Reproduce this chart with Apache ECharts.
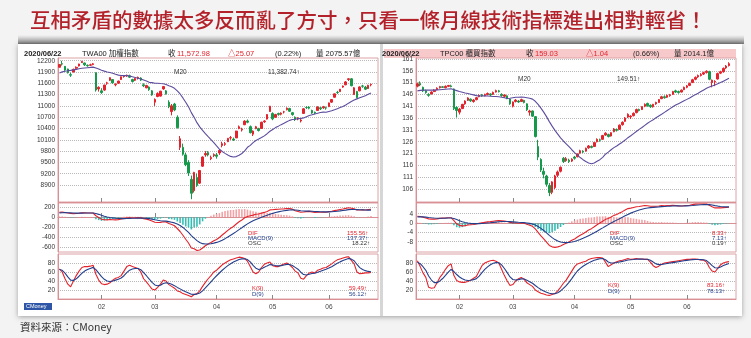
<!DOCTYPE html>
<html><head><meta charset="utf-8">
<script src="https://cdn.jsdelivr.net/npm/echarts@6.0.0/dist/echarts.min.js"></script>
<style>html,body{margin:0;padding:0;background:#f2f2f2;}#c{width:751px;height:338px;}</style>
</head><body><div id="c"></div>
<script>
const dates = ['01/02','01/03','01/06','01/07','01/08','01/09','01/10','01/13','01/14','01/15','01/16','01/17','01/20','01/30','01/31',
'02/03','02/04','02/05','02/06','02/07','02/10','02/11','02/12','02/13','02/14','02/17','02/18','02/19','02/20','02/21','02/24','02/25','02/26','02/27',
'03/02','03/03','03/04','03/05','03/06','03/09','03/10','03/11','03/12','03/13','03/16','03/17','03/18','03/19','03/20','03/23','03/24','03/25','03/26','03/27','03/30','03/31',
'04/01','04/06','04/07','04/08','04/09','04/10','04/13','04/14','04/15','04/16','04/17','04/20','04/21','04/22','04/23','04/24','04/27','04/28','04/29','04/30',
'05/04','05/05','05/06','05/07','05/08','05/11','05/12','05/13','05/14','05/15','05/18','05/19','05/20','05/21','05/22','05/25','05/26','05/27','05/28','05/29',
'06/01','06/02','06/03','06/04','06/05','06/08','06/09','06/10','06/11','06/12','06/15','06/16','06/17','06/18','06/19','06/22'];

// TAIEX (TWA00)
const twOpen = [12026,12120,12050,11980,11830,11900,12000,12060,12150,12140,12080,12080,12100,11880,11450,11400,11420,11600,11680,11700,11560,11600,11700,11780,11800,11800,11700,11680,11740,11740,11560,11480,11500,11400,11100,11250,11260,11450,11400,11100,10850,11050,10700,9900,9900,9700,9500,9050,8750,9100,8950,9400,9700,9760,9600,9680,9700,9750,9950,9980,10050,10150,10120,10150,10400,10360,10500,10600,10450,10250,10400,10400,10400,10580,10650,10850,10800,10700,10800,10780,10840,10900,10930,10820,10700,10650,10600,10800,10960,10970,10880,10830,10880,10950,10950,10950,10980,11100,11230,11360,11380,11500,11560,11700,11720,11300,11380,11400,11530,11500,11460,11560];
const twClose = [12100,12110,11953,11880,11817,11970,12025,12113,12179,12091,12066,12091,12118,11421,11495,11354,11555,11612,11749,11612,11573,11660,11774,11791,11815,11763,11648,11725,11758,11686,11534,11540,11433,11292,11170,11328,11392,11514,11321,10977,11003,10893,10422,10128,9717,9439,9218,8681,9234,8890,9285,9644,9737,9698,9629,9708,9663,9818,9996,9997,10137,10157,10098,10332,10447,10376,10597,10566,10288,10332,10447,10347,10567,10600,10772,10992,10656,10772,10775,10808,10842,10939,10858,10770,10641,10680,10623,10924,10958,10940,10811,10810,10972,10925,10975,10942,11079,11169,11320,11354,11443,11528,11638,11720,11536,11480,11220,11504,11524,11444,11548,11573];
const twLow = [12026,12070,11930,11860,11770,11890,11980,12050,12140,12060,12040,12060,12080,11380,11380,11320,11400,11560,11660,11590,11520,11590,11690,11750,11770,11740,11620,11660,11700,11660,11500,11470,11400,11270,11000,11230,11250,11430,11300,10940,10750,10860,10400,9830,9680,9400,9140,8523,8700,8850,8930,9380,9650,9660,9560,9640,9600,9700,9900,9940,10040,10100,10070,10150,10380,10320,10490,10540,10270,10200,10380,10320,10390,10550,10640,10840,10620,10680,10740,10750,10800,10880,10840,10740,10600,10620,10560,10790,10920,10910,10790,10780,10870,10890,10920,10900,10970,11080,11220,11320,11370,11480,11550,11660,11520,11290,11200,11390,11480,11420,11450,11520];
const twHigh = [12110,12197,12060,11990,11880,11990,12050,12120,12197,12150,12100,12120,12140,11890,11520,11470,11560,11640,11760,11710,11600,11670,11780,11820,11830,11830,11720,11740,11780,11760,11600,11560,11520,11420,11200,11360,11400,11530,11420,11150,11050,11080,10750,10200,10000,9760,9560,9150,9250,9200,9300,9660,9800,9800,9680,9740,9750,9850,10050,10040,10150,10200,10160,10340,10480,10420,10620,10640,10480,10350,10470,10420,10580,10620,10780,11000,10830,10790,10820,10830,10870,10960,10950,10840,10720,10700,10650,10940,10990,10990,10900,10850,10990,10970,11000,10980,11090,11180,11330,11400,11450,11540,11660,11736,11740,11500,11400,11520,11560,11530,11560,11590];
const twMA20 = [11876,11904,11922,11935,11943,11957,11970,11986,12000,12008,12015,12022,12030,12005,11980,11949,11924,11900,11885,11866,11839,11817,11808,11803,11803,11793,11774,11755,11734,11713,11687,11659,11625,11619,11602,11601,11593,11588,11567,11535,11506,11468,11400,11317,11212,11096,10975,10822,10696,10556,10444,10349,10264,10185,10108,10027,9940,9855,9789,9740,9697,9660,9644,9654,9690,9737,9806,9901,9953,10025,10083,10119,10160,10205,10262,10327,10376,10424,10463,10503,10539,10578,10616,10638,10647,10663,10664,10682,10715,10746,10764,10787,10807,10824,10834,10831,10852,10872,10899,10927,10957,10986,11025,11073,11117,11157,11187,11216,11245,11270,11307,11345];
const twDIF = [95,98,90,80,70,68,70,75,82,82,80,80,80,25,-10,-45,-55,-58,-50,-55,-58,-52,-40,-30,-20,-15,-20,-18,-15,-18,-32,-42,-58,-80,-105,-110,-108,-95,-100,-130,-150,-175,-230,-290,-365,-445,-520,-620,-635,-670,-660,-620,-575,-540,-510,-475,-450,-410,-360,-315,-268,-225,-190,-140,-95,-60,-15,10,25,38,55,60,78,92,112,142,145,152,156,160,163,170,168,158,125,110,95,100,108,112,102,92,95,95,97,96,108,115,128,138,150,160,172,185,175,165,142,140,142,140,148,156];
const twMACD = [83,86,87,86,83,80,78,77,78,79,79,79,79,69,53,33,16,1,-9,-18,-26,-31,-33,-33,-30,-27,-26,-24,-22,-21,-24,-27,-33,-43,-55,-66,-75,-79,-83,-92,-104,-118,-141,-170,-209,-256,-309,-371,-424,-473,-511,-533,-541,-541,-535,-523,-508,-489,-463,-433,-400,-365,-330,-292,-253,-214,-174,-138,-105,-76,-50,-28,-7,13,33,55,73,89,102,114,124,133,140,144,140,134,126,121,118,117,114,110,107,104,103,102,103,105,110,115,122,130,138,148,150,151,148,145,143,140,138,137];
const twOSC = [12,12,3,-6,-13,-12,-8,-2,4,3,1,1,1,-44,-63,-78,-71,-59,-41,-37,-32,-21,-7,3,10,12,6,6,7,3,-8,-15,-25,-37,-50,-44,-33,-16,-17,-38,-46,-57,-89,-120,-156,-189,-211,-249,-211,-197,-149,-87,-34,1,25,48,58,79,103,118,132,140,140,152,158,154,159,148,130,114,105,88,85,79,79,87,72,63,54,46,39,37,28,14,-15,-24,-31,-21,-10,-5,-12,-18,-12,-9,-6,-6,5,10,18,23,28,30,34,37,25,14,-6,-5,-1,0,10,19];
const twK = [67,60,45,33,27,40,52,62,70,72,72,73,75,55,42,34,32,33,36,42,46,48,52,62,72,75,72,70,68,60,45,38,30,22,20,26,33,42,40,32,28,24,18,16,12,10,8,5,10,12,18,28,37,45,52,60,64,70,76,80,84,87,89,91,93,92,90,84,72,60,56,60,70,77,80,82,74,72,72,75,78,80,76,70,62,58,46,44,52,58,60,58,64,66,69,70,74,78,83,87,89,91,93,94,86,78,60,56,57,58,58,59];
const twD = [65.7,63.8,57.5,49.3,41.9,41.3,44.9,50.6,57.1,62.0,65.4,67.9,70.3,65.2,57.4,49.6,43.7,40.1,38.8,39.9,41.9,43.9,46.6,51.7,58.5,64.0,66.7,67.8,67.9,65.2,58.5,51.7,44.4,37.0,31.3,29.5,30.7,34.5,36.3,34.9,32.6,29.7,25.8,22.5,19.0,16.0,13.3,10.5,10.3,10.9,13.3,18.2,24.5,31.3,38.2,45.5,51.7,57.8,63.9,69.3,74.2,78.5,82.0,85.0,87.7,89.1,89.4,87.6,82.4,74.9,68.6,65.7,67.1,70.4,73.6,76.4,75.6,74.4,73.6,74.1,75.4,76.9,76.6,74.4,70.3,66.2,59.5,54.3,53.5,55.0,56.7,57.1,59.4,61.6,64.1,66.1,68.7,71.8,75.5,79.3,82.5,85.3,87.9,89.9,88.6,85.1,76.7,69.8,65.5,63.0,61.3,60.5];

// OTC index (TPC00)
const tpOpen = [149.5,150.6,149.0,147.5,146.0,146.2,147.2,148.0,148.8,149.2,148.8,149.4,149.6,148.3,140.5,138.5,140.0,142.0,143.5,144.0,143.0,143.8,145.0,145.8,145.4,146.0,146.2,146.0,147.0,147.5,146.0,145.2,145.4,144.0,141.0,143.0,143.2,143.0,143.5,142.0,138.5,139.0,136.6,124.0,118.5,113.5,111.5,107.5,104.6,106.6,111.8,113.5,119.0,118.0,118.2,117.8,119.5,119.6,121.2,122.0,122.0,123.4,124.0,124.0,126.0,126.8,127.0,128.8,129.0,128.4,130.2,131.2,131.2,133.2,134.6,136.4,136.5,137.0,138.3,139.6,139.6,141.0,142.2,141.4,140.8,142.0,142.6,144.2,145.0,144.8,145.5,146.0,147.5,147.2,147.0,148.0,149.0,149.8,151.0,152.4,153.4,154.0,154.6,155.3,155.6,151.0,151.2,152.5,155.0,155.6,157.2,158.2];
const tpClose = [150.5,150.0,147.5,146.8,145.6,147.0,147.8,148.6,149.3,149.0,149.4,149.8,149.3,140.0,139.2,139.8,141.8,143.2,144.5,143.3,143.6,144.6,145.6,145.4,146.0,146.4,145.8,146.8,147.6,147.2,145.5,145.8,144.2,142.0,142.8,143.6,142.8,143.8,142.6,139.5,139.0,136.8,128.2,119.5,114.0,112.2,108.0,104.5,109.0,111.5,113.2,115.2,117.6,118.8,117.6,118.6,119.0,120.8,122.2,121.6,123.2,124.2,123.6,125.6,127.0,126.6,128.6,129.6,128.2,129.8,131.4,130.8,133.0,134.2,136.0,137.6,136.8,138.0,139.6,139.2,140.8,141.8,141.2,140.8,141.8,142.6,143.8,145.0,144.6,145.6,145.8,147.2,147.0,146.8,147.8,149.0,149.6,150.6,152.2,153.2,154.0,154.4,155.2,155.8,152.4,152.0,151.5,154.8,155.6,157.0,158.0,159.0];
const tpLow = [149.0,149.5,147.0,146.3,145.0,146.0,147.0,147.8,148.5,148.7,148.6,149.1,149.0,139.4,136.2,137.5,139.8,141.6,143.2,142.8,142.5,143.5,144.8,145.0,145.2,145.6,145.3,145.8,146.8,146.8,145.0,144.6,144.0,141.6,140.5,142.6,142.4,142.8,142.2,139.0,137.0,136.5,127.8,118.2,113.2,110.5,107.0,103.0,103.8,106.0,111.0,113.0,117.0,117.5,117.0,117.4,118.4,119.4,120.9,121.2,121.8,123.0,123.2,123.8,125.7,126.0,126.9,128.5,127.8,128.2,130.0,130.3,131.0,132.8,134.4,136.0,135.6,136.7,138.0,138.8,139.4,140.6,140.8,140.3,140.4,141.6,142.4,144.0,144.2,144.5,145.0,145.8,146.6,146.3,146.8,147.8,148.6,149.5,150.8,152.0,153.0,153.6,154.2,154.8,152.0,149.0,149.5,152.3,154.6,155.2,156.8,157.8];
const tpHigh = [151.0,151.5,149.3,148.0,146.5,147.3,148.2,149.0,149.6,149.5,149.8,150.0,150.1,148.5,141.0,140.3,142.0,143.5,144.8,144.3,144.0,144.9,146.0,146.2,146.3,146.8,146.5,147.2,148.0,147.9,146.5,146.0,145.6,144.2,143.0,144.0,143.6,144.2,143.7,142.2,139.5,139.2,136.8,126.8,119.0,115.0,112.0,108.5,109.3,112.0,113.8,115.5,119.5,119.5,118.8,119.0,120.0,121.0,122.6,122.4,123.5,124.6,124.4,125.9,127.4,127.3,128.9,130.0,129.4,130.0,131.8,131.6,133.3,134.6,136.4,138.0,137.2,138.4,140.0,140.0,141.0,142.2,142.5,141.8,142.0,142.9,144.0,145.4,145.6,145.9,146.2,147.5,148.0,147.6,148.1,149.3,150.0,151.0,152.6,153.6,154.4,155.0,155.6,156.2,156.0,152.3,152.0,155.2,156.0,157.4,158.4,159.6];
const tpMA20 = [147.5,147.7,147.8,147.8,147.8,147.8,147.8,147.9,148.0,148.1,148.2,148.3,148.4,148.0,147.6,147.2,146.9,146.6,146.4,146.1,145.8,145.5,145.4,145.3,145.4,145.3,145.2,145.1,145.1,145.0,144.8,144.6,144.3,144.4,144.6,144.8,144.8,144.9,144.8,144.6,144.4,144.0,143.1,141.8,140.2,138.5,136.6,134.5,132.6,130.8,129.2,127.6,126.3,125.1,123.9,122.6,121.4,120.3,119.3,118.4,117.6,117.0,116.7,117.0,117.7,118.4,119.4,120.7,121.6,122.6,123.5,124.2,125.0,125.8,126.7,127.7,128.5,129.4,130.3,131.2,132.0,132.9,133.8,134.6,135.3,136.1,136.9,137.6,138.4,139.2,140.0,140.8,141.5,142.1,142.7,143.3,143.9,144.5,145.2,145.9,146.5,147.2,147.9,148.6,149.1,149.6,150.0,150.5,151.0,151.6,152.2,152.8];
const tpDIF = [2.9,2.8,2.5,2.2,1.8,1.7,1.7,1.8,2.0,2.1,2.2,2.3,2.3,1.0,-0.3,-1.0,-1.2,-1.1,-0.8,-0.7,-0.6,-0.4,-0.1,0.1,0.3,0.5,0.6,0.8,1.0,1.1,1.0,0.9,0.7,0.3,0.1,0.0,-0.1,0.0,-0.1,-0.5,-0.9,-1.4,-2.5,-4.0,-5.5,-6.8,-8.2,-9.6,-10.2,-10.4,-10.2,-9.8,-9.2,-8.6,-8.1,-7.4,-6.8,-6.0,-5.2,-4.6,-3.8,-3.0,-2.4,-1.6,-0.7,0.0,0.8,1.6,2.0,2.6,3.3,3.7,4.3,4.9,5.6,6.2,6.4,6.7,7.0,7.1,7.3,7.5,7.4,7.2,7.2,7.2,7.3,7.5,7.4,7.5,7.5,7.6,7.5,7.3,7.3,7.4,7.5,7.6,7.9,8.1,8.2,8.2,8.2,8.2,7.6,7.0,6.5,6.5,6.5,6.6,6.7,6.8];
const tpMACD = [2.66,2.69,2.65,2.56,2.41,2.27,2.16,2.09,2.07,2.08,2.10,2.14,2.17,1.94,1.49,0.99,0.55,0.22,0.02,-0.12,-0.22,-0.26,-0.23,-0.16,-0.07,0.04,0.15,0.28,0.42,0.56,0.65,0.70,0.70,0.62,0.52,0.42,0.32,0.26,0.19,0.05,-0.14,-0.39,-0.81,-1.45,-2.26,-3.17,-4.18,-5.26,-6.25,-7.08,-7.70,-8.12,-8.34,-8.39,-8.33,-8.14,-7.87,-7.50,-7.04,-6.55,-6.00,-5.40,-4.80,-4.16,-3.47,-2.78,-2.06,-1.33,-0.66,-0.01,0.65,1.26,1.87,2.48,3.10,3.72,4.26,4.75,5.20,5.58,5.92,6.24,6.47,6.62,6.74,6.83,6.92,7.04,7.11,7.19,7.25,7.32,7.36,7.35,7.34,7.35,7.38,7.42,7.52,7.64,7.75,7.84,7.91,7.97,7.90,7.72,7.48,7.28,7.12,7.02,6.96,6.93];
const tpOSC = [0.24,0.11,-0.15,-0.36,-0.61,-0.57,-0.46,-0.29,-0.07,0.02,0.10,0.16,0.13,-0.94,-1.79,-1.99,-1.75,-1.32,-0.82,-0.58,-0.38,-0.14,0.13,0.26,0.37,0.46,0.45,0.52,0.58,0.54,0.35,0.20,0.00,-0.32,-0.42,-0.42,-0.42,-0.26,-0.29,-0.55,-0.76,-1.01,-1.69,-2.55,-3.24,-3.63,-4.02,-4.34,-3.95,-3.32,-2.50,-1.68,-0.86,-0.21,0.23,0.74,1.07,1.50,1.84,1.95,2.20,2.40,2.40,2.56,2.77,2.78,2.86,2.93,2.66,2.61,2.65,2.44,2.43,2.42,2.50,2.48,2.14,1.95,1.80,1.52,1.38,1.26,0.93,0.58,0.46,0.37,0.38,0.46,0.29,0.31,0.25,0.28,0.14,-0.05,-0.04,0.05,0.12,0.18,0.38,0.46,0.45,0.36,0.29,0.23,-0.30,-0.72,-0.98,-0.78,-0.62,-0.42,-0.26,-0.13];
const tpK = [85,72,58,48,26,24,25,36,48,56,66,74,78,52,41,38,37,37,39,42,46,50,62,74,80,83,85,86,84,80,66,52,40,30,32,40,45,48,44,36,32,28,20,16,13,11,9,8,10,12,18,26,35,42,52,62,72,78,80,82,84,88,90,91,92,92,91,82,72,76,80,83,85,86,88,90,88,89,90,89,89,88,88,82,74,70,73,77,80,81,82,83,84,85,86,87,88,88,89,89,88,87,86,82,70,62,60,68,76,80,82,83];
const tpD = [81.7,78.5,71.7,63.8,51.2,42.1,36.4,36.3,40.2,45.5,52.3,59.5,65.7,61.1,54.4,48.9,44.9,42.3,41.2,41.5,43.0,45.3,50.9,58.6,65.7,71.5,76.0,79.3,80.9,80.6,75.7,67.8,58.5,49.0,43.3,42.2,43.1,44.7,44.5,41.7,38.5,35.0,30.0,25.3,21.2,17.8,14.9,12.6,11.7,11.8,13.9,17.9,23.6,29.7,37.1,45.4,54.3,62.2,68.1,72.7,76.5,80.3,83.5,86.0,88.0,89.3,89.9,87.3,82.2,80.1,80.1,81.1,82.4,83.6,85.1,86.7,87.1,87.7,88.5,88.7,88.8,88.5,88.3,86.2,82.1,78.1,76.4,76.6,77.7,78.8,79.9,80.9,81.9,82.9,83.9,84.9,85.9,86.6,87.4,87.9,87.9,87.6,87.1,85.4,80.3,74.2,69.5,69.0,71.3,74.2,76.8,78.9];

// tick labels
const twPriceTicks = [8900,9200,9500,9800,10100,10400,10700,11000,11300,11600,11900,12200];
const tpPriceTicks = [106,111,116,121,126,131,136,141,146,151,156,161];
const twMacdTicks = [-600,-400,-200,0,200];
const tpMacdTicks = [-8,-4,0,4];
const kdTicks = [20,40,60,80];

const RED='#e3232c', GREEN='#16994b', PURPLE='#5d4c9e', NAVY='#233f8c';
const PAD = 2;
const cats = dates.concat(Array(PAD).fill(''));
const monthStart = new Set();
dates.forEach((d,i)=>{ if(i>0 && d.slice(0,2)!==dates[i-1].slice(0,2)) monthStart.add(i); });
const isMS = (i)=>monthStart.has(i);
const F = '"Liberation Sans","Noto Sans CJK TC",sans-serif';

function ohlc(o,c,l,h){ return o.map((v,i)=>[v,c[i],l[i],h[i]]); }

const charts = [
  {x:58, O:twOpen,C:twClose,L:twLow,H:twHigh,MA:twMA20,DIF:twDIF,MACD:twMACD,OSC:twOSC,K:twK,D:twD,
   pmin:8449,pmax:12272,pt:twPriceTicks,mmin:-700,mmax:280,mt:twMacdTicks},
  {x:416,O:tpOpen,C:tpClose,L:tpLow,H:tpHigh,MA:tpMA20,DIF:tpDIF,MACD:tpMACD,OSC:tpOSC,K:tpK,D:tpD,
   pmin:100.5,pmax:161.4,pt:tpPriceTicks,mmin:-12.4,mmax:8.6,mt:tpMacdTicks}
];

const grid=[],xAxis=[],yAxis=[],series=[];
const W=320;
const lab = {fontSize:6.5,color:'#333',fontFamily:F,margin:3,formatter:(v)=>String(v)};
charts.forEach((c,ci)=>{
  const g0=grid.length;
  grid.push({left:c.x,top:58,width:W,height:144,show:true,borderColor:'#dca2a5',borderWidth:1});
  grid.push({left:c.x,top:203,width:W,height:49,show:true,borderColor:'#dca2a5',borderWidth:1});
  grid.push({left:c.x,top:254,width:W,height:45,show:true,borderColor:'#dca2a5',borderWidth:1});
  for(let k=0;k<3;k++){
    xAxis.push({type:'category',gridIndex:g0+k,data:cats,boundaryGap:true,
      axisLine:{show:true,lineStyle:{color:'#d98f93'}},
      axisTick:{show:true,inside:true,length:4,interval:(i)=>isMS(i),alignWithLabel:true,lineStyle:{color:'#888'}},
      axisLabel:{show:k===2,interval:(i)=>isMS(i),formatter:(v)=>v.slice(0,2),fontSize:6.5,color:'#444',fontFamily:F,margin:5},
      splitLine:{show:false}});
  }
  const sl={show:true,lineStyle:{type:'dotted',color:'#b8b8b8',width:1}};
  const al={show:true,lineStyle:{color:'#d98f93'}};
  yAxis.push({type:'value',gridIndex:g0,min:c.pmin,max:c.pmax,axisLine:al,axisTick:{show:false,customValues:c.pt},
    axisLabel:Object.assign({customValues:c.pt},lab),splitLine:sl});
  yAxis.push({type:'value',gridIndex:g0+1,min:c.mmin,max:c.mmax,axisLine:al,axisTick:{show:false,customValues:c.mt},
    axisLabel:Object.assign({customValues:c.mt},lab),splitLine:sl});
  yAxis.push({type:'value',gridIndex:g0+2,min:0,max:100,axisLine:al,axisTick:{show:false,customValues:kdTicks},
    axisLabel:Object.assign({customValues:kdTicks},lab),splitLine:sl});
  series.push({type:'candlestick',xAxisIndex:g0,yAxisIndex:g0,data:ohlc(c.O,c.C,c.L,c.H),barWidth:'72%',
    itemStyle:{color:RED,color0:GREEN,borderColor:RED,borderColor0:GREEN,borderWidth:1}});
  series.push({type:'line',xAxisIndex:g0,yAxisIndex:g0,data:c.MA,symbol:'none',lineStyle:{color:PURPLE,width:1.1}});
  series.push({type:'bar',xAxisIndex:g0+1,yAxisIndex:g0+1,data:c.OSC,barWidth:1.6,
    itemStyle:{color:(p)=>p.value>=0?'#f3a3a6':'#38bdb4'}});
  series.push({type:'line',xAxisIndex:g0+1,yAxisIndex:g0+1,data:c.DIF,symbol:'none',lineStyle:{color:RED,width:1.1}});
  series.push({type:'line',xAxisIndex:g0+1,yAxisIndex:g0+1,data:c.MACD,symbol:'none',lineStyle:{color:NAVY,width:1.1}});
  series.push({type:'line',xAxisIndex:g0+2,yAxisIndex:g0+2,data:c.K,symbol:'none',lineStyle:{color:RED,width:1.1}});
  series.push({type:'line',xAxisIndex:g0+2,yAxisIndex:g0+2,data:c.D,symbol:'none',lineStyle:{color:NAVY,width:1.1}});
});

function T(text,x,y,fill,size,extra){
  return Object.assign({type:'text',x:x,y:y,z:50,style:{text:text,fill:fill||'#222',font:(size||7)+'px '+F,textVerticalAlign:'middle'}},extra||{});
}
const hdr=(dx,date,name,close,chg,pct,vol)=>[
  T(date,24+dx,54,'#222',7.5,{style:{text:date,fill:'#222',font:'bold 7.5px '+F,textVerticalAlign:'middle'}}),
  T(name,82+dx,54,'#222',7.5),
  T('收',168+dx,54,'#222',7.5),
  T(close,177+dx,54,RED,7.5),
  T(chg,228+dx,54,RED,7.5),
  T(pct,275+dx,54,'#222',7.5),
  T(vol,316+dx,54,'#222',7.5)
];
const graphic=[
  {type:'rect',shape:{x:0,y:0,width:751,height:338},style:{fill:'#f3f3f3'},z:-10},
  {type:'rect',shape:{x:18,y:35,width:726,height:9},style:{fill:{type:'linear',x:0,y:0,x2:0,y2:1,colorStops:[{offset:0,color:'rgba(140,140,140,0)'},{offset:1,color:'rgba(95,95,95,0.85)'}]}},z:-9},
  {type:'rect',shape:{x:18,y:44,width:724,height:272},style:{fill:'#fff',shadowBlur:5,shadowColor:'rgba(0,0,0,0.35)',shadowOffsetY:1},z:-8},
  {type:'rect',shape:{x:380,y:44,width:3,height:272},style:{fill:'#d6d6d6'},z:-7},
  {type:'rect',shape:{x:384,y:49,width:352,height:9},style:{fill:'#f7c9cb'},z:-6},
  T('互相矛盾的數據太多反而亂了方寸，只看一條月線技術指標進出相對輕省！',30,20,'#b3222b',20.5,
    {style:{text:'互相矛盾的數據太多反而亂了方寸，只看一條月線技術指標進出相對輕省！',fill:'#b3222b',font:'500 20.5px "Noto Sans CJK TC",sans-serif',textVerticalAlign:'middle'}}),
  ...hdr(0,'2020/06/22','TWA00 加權指數','11,572.98','△25.07','(0.22%)','量 2075.57億'),
  ...hdr(358,'2020/06/22','TPC00 櫃買指數','159.03','△1.04','(0.66%)','量 2014.1億'),
  T('M20',174,72,'#333',6.5), T('11,382.74↑',268,72,'#333',6.5),
  T('M20',518,79,'#333',6.5), T('149.51↑',617,79,'#333',6.5),
  T('DIF',248,233,RED,6), T('MACD(9)',248,238,NAVY,6), T('OSC',248,243,'#333',6),
  T('155.56↑',347,233,RED,6), T('137.37↑',347,238,NAVY,6), T('18.22↑',352,243,'#333',6),
  T('DIF',610,233,RED,6), T('MACD(9)',610,238,NAVY,6), T('OSC',610,243,'#333',6),
  T('8.33↑',712,233,RED,6), T('7.13↑',712,238,NAVY,6), T('0.19↑',712,243,'#333',6),
  T('K(9)',252,288,RED,6), T('D(9)',252,294,NAVY,6),
  T('59.49↑',349,288,RED,6), T('56.12↑',349,294,NAVY,6),
  T('K(9)',608,285,RED,6), T('D(9)',608,291,NAVY,6),
  T('83.16↑',707,285,RED,6), T('78.13↑',707,291,NAVY,6),
  {type:'rect',shape:{x:24,y:303,width:28,height:7},style:{fill:'#2f56a6'},z:40},
  T('CMoney',26,306.5,'#fff',5.5),
  T('資料來源：CMoney',20,327,'#333',10.5,{style:{text:'資料來源：CMoney',fill:'#333',font:'10.5px "Noto Sans CJK TC",sans-serif',textVerticalAlign:'middle'}})
];

const chart=echarts.init(document.getElementById('c'),null,{renderer:'canvas'});
chart.setOption({animation:false,backgroundColor:'#f3f3f3',grid,xAxis,yAxis,series,graphic});
</script></body></html>
